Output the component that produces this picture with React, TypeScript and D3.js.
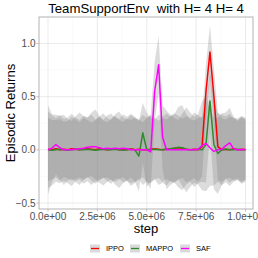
import React, { useEffect, useRef } from 'react';
import * as d3 from 'd3';

// episodes logged every 2e5 steps
const steps = d3.range(0, 51).map(i => i * 2e5);

const methods = ['IPPO', 'MAPPO', 'SAF'];
const lineColors = ['#ff0000', '#2e8b2e', '#ff00ff'];

const ippoMean = [0.005,0.0,0.01,0.0,0.005,0.0,0.01,0.005,0.0,0.01,
  0.01,0.005,0.0,0.01,0.005,0.0,0.005,0.01,0.0,0.005,
  0.0,0.01,0.0,0.005,0.0,0.0,0.005,0.01,0.005,0.0,
  0.005,0.01,0.015,0.02,0.015,0.005,0.0,0.005,0.0,0.03,
  0.55,0.92,0.5,0.03,0.0,0.005,0.0,0.01,0.0,0.005,0.0];
const mappoMean = [0.0,-0.005,0.0,0.005,0.0,-0.005,0.0,0.005,0.0,0.0,
  0.005,0.0,-0.005,0.0,0.005,0.0,0.0,0.005,0.0,-0.005,
  0.0,0.005,0.0,-0.06,0.16,0.0,0.0,0.005,0.0,0.0,
  0.005,0.01,0.015,0.025,0.02,0.005,0.0,0.0,0.005,0.0,
  0.05,0.46,0.05,-0.035,0.0,0.005,0.0,0.0,0.005,0.0,0.0];
const safMean = [0.0,0.015,0.05,0.02,0.0,0.0,0.0,0.005,0.01,0.015,
  0.025,0.03,0.03,0.02,0.01,0.015,0.01,0.015,0.01,0.015,
  0.01,0.0,0.0,0.0,0.0,0.0,-0.02,0.55,0.8,0.12,
  0.0,0.0,0.0,0.0,0.0,0.0,0.0,0.0,0.005,0.04,
  0.06,0.02,-0.015,0.0,0.005,0.04,0.065,0.01,0.0,0.0,0.005];

const ippoSd = [0.30,0.28,0.27,0.29,0.26,0.27,0.30,0.28,0.26,0.29,
  0.27,0.25,0.28,0.30,0.27,0.26,0.29,0.31,0.28,0.26,
  0.29,0.27,0.30,0.28,0.26,0.30,0.32,0.29,0.27,0.30,
  0.28,0.31,0.33,0.30,0.28,0.31,0.29,0.27,0.30,0.28,
  0.26,0.25,0.26,0.32,0.30,0.28,0.31,0.29,0.27,0.30,0.28];
const mappoSd = [0.36,0.33,0.30,0.32,0.29,0.31,0.34,0.30,0.28,0.32,
  0.30,0.33,0.29,0.31,0.34,0.30,0.28,0.33,0.36,0.31,
  0.29,0.32,0.30,0.33,0.28,0.35,0.30,0.28,0.33,0.31,
  0.34,0.30,0.32,0.38,0.40,0.33,0.30,0.35,0.32,0.30,
  0.36,0.30,0.42,0.38,0.33,0.31,0.34,0.30,0.29,0.32,0.30];
const safSd = [0.42,0.32,0.28,0.30,0.33,0.29,0.27,0.31,0.34,0.30,
  0.28,0.32,0.35,0.30,0.27,0.31,0.33,0.29,0.28,0.32,
  0.30,0.34,0.31,0.28,0.33,0.30,0.35,0.28,0.27,0.30,
  0.37,0.33,0.30,0.28,0.34,0.40,0.35,0.31,0.33,0.42,
  0.45,0.36,0.32,0.30,0.34,0.31,0.33,0.30,0.28,0.31,0.29];

const means = [ippoMean, mappoMean, safMean];
const sds = [ippoSd, mappoSd, safSd];

const xTicks = [0, 2.5e6, 5e6, 7.5e6, 1e7];
const xTickLabels = ['0.0e+00', '2.5e+06', '5.0e+06', '7.5e+06', '1.0e+07'];
const xMinor = [1.25e6, 3.75e6, 6.25e6, 8.75e6];
const yTicks = [-0.5, 0, 0.5, 1];
const yTickLabels = ['\u22120.5', '0.0', '0.5', '1.0'];
const yMinor = [-0.25, 0.25, 0.75];

export default function App() {
  const chart = useRef(null);

  useEffect(() => {
    const svg = d3.select(chart.current);
    svg.selectAll('*').remove();
    const font = 'Liberation Sans, Arial, sans-serif';

    const left = 39, right = 253, top = 17, bottom = 209;
    const x = d3.scaleLinear().domain([0, 1e7]).range([48, 245.5]);
    const y = d3.scaleLinear().domain([-0.5, 1]).range([203, 43.5]);

    svg.append('rect')
      .attr('x', left).attr('y', top)
      .attr('width', right - left).attr('height', bottom - top)
      .attr('fill', 'white');

    svg.append('clipPath').attr('id', 'panel')
      .append('rect')
      .attr('x', left).attr('y', top)
      .attr('width', right - left).attr('height', bottom - top);

    const grid = svg.append('g');
    grid.selectAll('.xm').data(xMinor).join('line')
      .attr('x1', d => x(d)).attr('x2', d => x(d))
      .attr('y1', top).attr('y2', bottom)
      .attr('stroke', '#f4f4f4').attr('stroke-width', 0.5);
    grid.selectAll('.ym').data(yMinor).join('line')
      .attr('y1', d => y(d)).attr('y2', d => y(d))
      .attr('x1', left).attr('x2', right)
      .attr('stroke', '#f4f4f4').attr('stroke-width', 0.5);
    grid.selectAll('.xg').data(xTicks).join('line')
      .attr('x1', d => x(d)).attr('x2', d => x(d))
      .attr('y1', top).attr('y2', bottom)
      .attr('stroke', '#e6e6e6').attr('stroke-width', 0.8);
    grid.selectAll('.yg').data(yTicks).join('line')
      .attr('y1', d => y(d)).attr('y2', d => y(d))
      .attr('x1', left).attr('x2', right)
      .attr('stroke', '#e6e6e6').attr('stroke-width', 0.8);

    const plot = svg.append('g').attr('clip-path', 'url(#panel)');

    const area = d3.area()
      .x(d => x(d[0]))
      .y0(d => y(d[1] - d[2]))
      .y1(d => y(d[1] + d[2]));
    const line = d3.line()
      .x(d => x(d[0]))
      .y(d => y(d[1]));

    const series = methods.map((m, k) => steps.map((s, i) => [s, means[k][i], sds[k][i]]));

    series.forEach(rows => {
      plot.append('path')
        .attr('d', area(rows))
        .attr('fill', '#7f7f7f')
        .attr('fill-opacity', 0.27);
    });
    series.forEach((rows, k) => {
      plot.append('path')
        .attr('d', line(rows))
        .attr('fill', 'none')
        .attr('stroke', lineColors[k])
        .attr('stroke-width', 1.5)
        .attr('stroke-linejoin', 'round');
    });

    svg.append('rect')
      .attr('x', left).attr('y', top)
      .attr('width', right - left).attr('height', bottom - top)
      .attr('fill', 'none')
      .attr('stroke', '#b3b3b3').attr('stroke-width', 1);

    // y axis
    svg.selectAll('.yt').data(yTicks).join('line')
      .attr('x1', left - 2.5).attr('x2', left)
      .attr('y1', d => y(d)).attr('y2', d => y(d))
      .attr('stroke', '#b3b3b3').attr('stroke-width', 0.8);
    svg.selectAll('.yl').data(yTicks).join('text')
      .attr('x', left - 3.5)
      .attr('y', d => y(d))
      .attr('dy', '0.35em')
      .attr('text-anchor', 'end')
      .style('font-family', font).style('font-size', '10px')
      .attr('fill', '#4d4d4d')
      .text((d, i) => yTickLabels[i]);

    // x axis
    svg.selectAll('.xt').data(xTicks).join('line')
      .attr('x1', d => x(d)).attr('x2', d => x(d))
      .attr('y1', bottom).attr('y2', bottom + 2.5)
      .attr('stroke', '#b3b3b3').attr('stroke-width', 0.8);
    svg.selectAll('.xl').data(xTicks).join('text')
      .attr('x', d => x(d))
      .attr('y', bottom + 10.5)
      .attr('text-anchor', 'middle')
      .style('font-family', font).style('font-size', '10px')
      .attr('fill', '#4d4d4d')
      .text((d, i) => xTickLabels[i]);

    svg.append('text')
      .attr('x', (left + right) / 2).attr('y', 233)
      .attr('text-anchor', 'middle')
      .style('font-family', font).style('font-size', '13px')
      .text('step');

    svg.append('text')
      .attr('transform', `translate(14.5,${(top + bottom) / 2}) rotate(-90)`)
      .attr('text-anchor', 'middle')
      .style('font-family', font).style('font-size', '13px')
      .text('Episodic Returns');

    svg.append('text')
      .attr('x', (left + right) / 2).attr('y', 13)
      .attr('text-anchor', 'middle')
      .style('font-family', font).style('font-size', '13.2px')
      .style('white-space', 'pre')
      .text('TeamSupportEnv  with H= 4 H= 4');

    // legend
    const keyX = [90, 130, 180];
    const legend = svg.append('g');
    methods.forEach((m, k) => {
      legend.append('rect')
        .attr('x', keyX[k]).attr('y', 244.5)
        .attr('width', 10).attr('height', 8)
        .attr('fill', '#dadada');
      legend.append('line')
        .attr('x1', keyX[k] + 1).attr('x2', keyX[k] + 9)
        .attr('y1', 248.5).attr('y2', 248.5)
        .attr('stroke', lineColors[k]).attr('stroke-width', 1.3);
      legend.append('text')
        .attr('x', keyX[k] + 16).attr('y', 251.3)
        .style('font-family', font).style('font-size', '7.5px')
        .attr('fill', 'black')
        .text(m);
    });
  }, []);

  return (
    <svg ref={chart} width={258} height={258}
      style={{ position: 'absolute', left: 0, top: 0, background: 'white' }} />
  );
}
